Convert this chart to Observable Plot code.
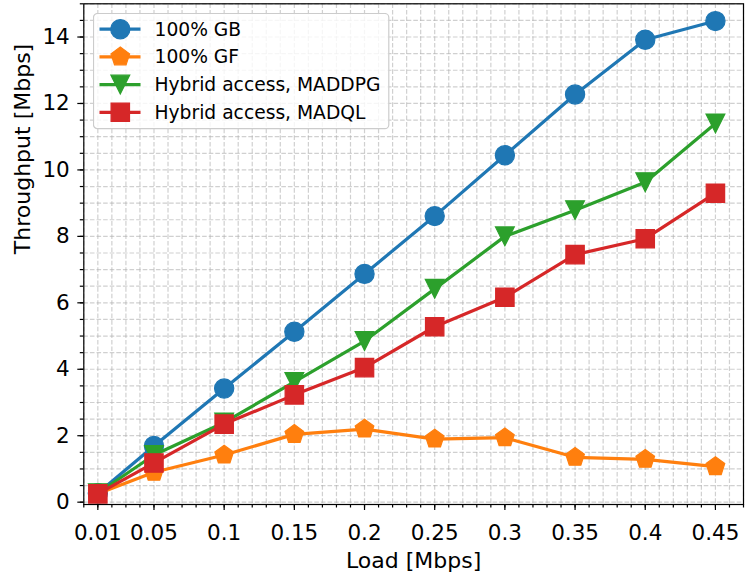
<!DOCTYPE html>
<html><head><meta charset="utf-8">
<script src="https://cdn.jsdelivr.net/npm/d3@7"></script>
<script src="https://cdn.jsdelivr.net/npm/@observablehq/plot@0.6"></script>
<style>
body{margin:0;background:#fff;font-family:"DejaVu Sans",sans-serif;}
#wrap{position:relative;width:748px;height:574px;}
#legend{position:absolute;left:92.7px;top:13.3px;}
</style></head><body><div id="wrap"></div>
<script>
const loads = [0.01, 0.05, 0.1, 0.15, 0.2, 0.25, 0.3, 0.35, 0.4, 0.45];
const gb = [0.27, 1.69, 3.42, 5.13, 6.87, 8.61, 10.44, 12.27, 13.92, 14.48];
const gf = [0.25, 0.90, 1.42, 2.04, 2.20, 1.90, 1.94, 1.35, 1.29, 1.07];
const maddpg = [0.27, 1.42, 2.40, 3.62, 4.85, 6.42, 8.00, 8.79, 9.63, 11.40];
const madql = [0.25, 1.18, 2.35, 3.23, 4.05, 5.28, 6.17, 7.45, 7.93, 9.30];
const seriesNames = ["100% GB", "100% GF", "Hybrid access, MADDPG", "Hybrid access, MADQL"];
const seriesColors = ["#1f77b4", "#ff7f0e", "#2ca02c", "#d62728"];
const seriesValues = [gb, gf, maddpg, madql];
const xTicks = [0.01, 0.05, 0.1, 0.15, 0.2, 0.25, 0.3, 0.35, 0.4, 0.45];
const xTickLabels = ["0.01", "0.05", "0.1", "0.15", "0.2", "0.25", "0.3", "0.35", "0.4", "0.45"];
const yTicks = [0, 2, 4, 6, 8, 10, 12, 14];
const xLabel = "Load [Mbps]";
const yLabel = "Throughput [Mbps]";

// minor ticks / grid positions
const xMinor = d3.range(0, 48).map(i => i / 100);
const yMinor = d3.range(0, 31).map(i => i / 2);

// marker shapes (matplotlib-like)
const rad = s => Math.sqrt(s / Math.PI);
const circleSym = {draw(c, s) { const r = rad(s); c.moveTo(r, 0); c.arc(0, 0, r, 0, 2 * Math.PI); c.closePath(); }};
const pentagonSym = {draw(c, s) { const r = rad(s); for (let i = 0; i < 5; i++) { const a = -Math.PI / 2 + i * 2 * Math.PI / 5; const x = r * Math.cos(a), y = r * Math.sin(a); i ? c.lineTo(x, y) : c.moveTo(x, y); } c.closePath(); }};
const triDownSym = {draw(c, s) { const r = rad(s); c.moveTo(0, r); c.lineTo(-r, -r); c.lineTo(r, -r); c.closePath(); }};
const squareSym = {draw(c, s) { const r = rad(s); c.rect(-r, -r, 2 * r, 2 * r); }};
const seriesSymbols = [circleSym, pentagonSym, triDownSym, squareSym];
const markerR = [9.6, 9.8, 9.4, 9.2];

const table = [];
seriesNames.forEach((name, k) => loads.forEach((x, i) => table.push({series: name, load: x, value: seriesValues[k][i]})));

const gridStyle = {stroke: "#b0b0b0", strokeOpacity: 0.6, strokeWidth: 1.2, strokeDasharray: "4.6,2"};

const marks = [
  Plot.ruleX(xMinor, {x: d => d, ...gridStyle}),
  Plot.ruleY(yMinor, {y: d => d, ...gridStyle}),
];
seriesNames.forEach((name, k) => {
  const rows = table.filter(d => d.series === name);
  marks.push(Plot.line(rows, {x: "load", y: "value", stroke: seriesColors[k], strokeWidth: 3.2}));
  marks.push(Plot.dot(rows, {x: "load", y: "value", r: markerR[k], symbol: seriesSymbols[k], fill: seriesColors[k], stroke: seriesColors[k], strokeWidth: 1.2}));
});
marks.push(
  Plot.axisX({ticks: xMinor, tickSize: 3.5, tickFormat: () => "", label: null, strokeWidth: 1.2}),
  Plot.axisY({ticks: yMinor, tickSize: 3.5, tickFormat: () => "", label: null, strokeWidth: 1.2}),
  Plot.axisX({ticks: xTicks, tickSize: 6, tickPadding: 14, fontSize: 21.5, tickFormat: d => xTickLabels[xTicks.indexOf(d)], label: null, strokeWidth: 1.2}),
  Plot.axisY({ticks: yTicks, tickSize: 6, tickPadding: 8, fontSize: 21.5, label: null, strokeWidth: 1.2}),
  Plot.frame({stroke: "black", strokeWidth: 1.2}),
  Plot.text([xLabel], {text: d => d, frameAnchor: "bottom", dy: 63, fontSize: 22}),
  Plot.text([yLabel], {text: d => d, frameAnchor: "left", dx: -61, rotate: -90, fontSize: 22})
);

const chart = Plot.plot({
  width: 748, height: 574,
  marginLeft: 83.3, marginRight: 5, marginTop: 3.3, marginBottom: 70,
  style: {fontFamily: "DejaVu Sans", background: "white", color: "black", overflow: "visible"},
  x: {type: "linear", domain: [0, 0.47], label: null},
  y: {type: "linear", domain: [-0.07, 15.0], label: null},
  marks
});
const wrap = document.getElementById("wrap");
wrap.appendChild(chart);

// legend
const lw = 295.3, lh = 115.2;
const leg = d3.select(wrap).append("svg").attr("id", "legend").attr("width", lw + 2).attr("height", lh + 2)
  .style("font-family", "DejaVu Sans");
leg.append("rect").attr("x", 0.5).attr("y", 0.5).attr("width", lw).attr("height", lh).attr("rx", 4)
  .attr("fill", "white").attr("fill-opacity", 0.8).attr("stroke", "#cccccc").attr("stroke-width", 1.2);
seriesNames.forEach((name, k) => {
  const cy = 16.2 + k * 27.7;
  const g = leg.append("g");
  g.append("line").attr("x1", 6.5).attr("x2", 47.5).attr("y1", cy).attr("y2", cy)
    .attr("stroke", seriesColors[k]).attr("stroke-width", 3.2);
  g.append("path").attr("transform", `translate(27.3,${cy})`)
    .attr("d", d3.symbol(seriesSymbols[k], markerR[k] * markerR[k] * Math.PI)())
    .attr("fill", seriesColors[k]).attr("stroke", seriesColors[k]).attr("stroke-width", 1.2);
  g.append("text").attr("x", 61.5).attr("y", cy).attr("dy", "0.35em").attr("font-size", 18.7)
    .attr("fill", "black").text(name);
});
</script></body></html>
